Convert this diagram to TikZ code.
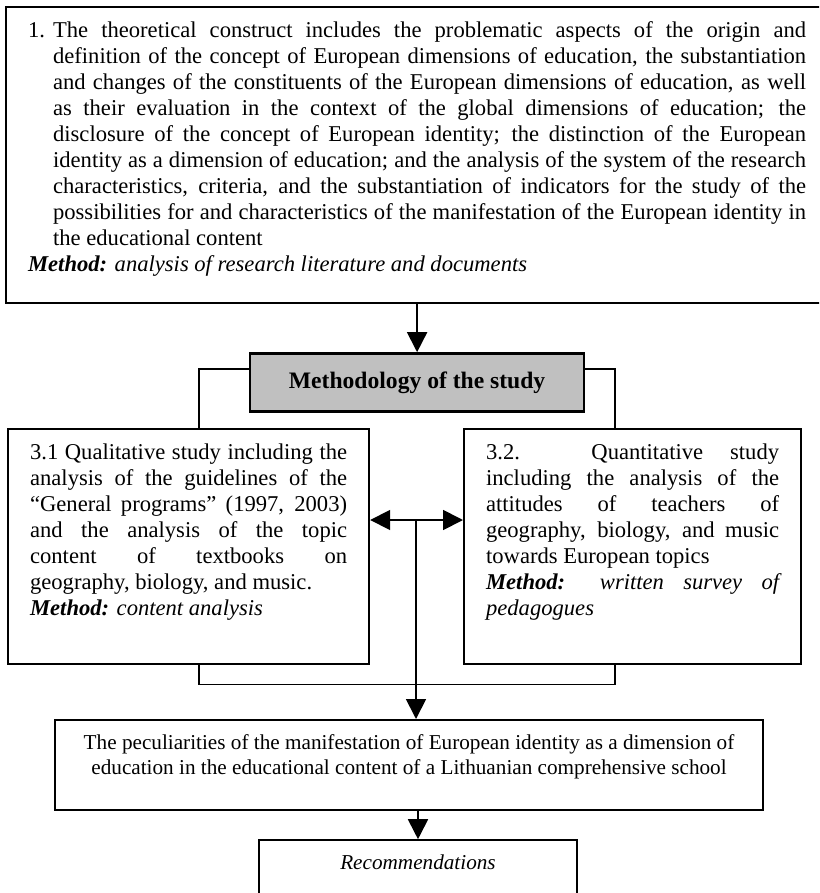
\documentclass[tikz,border=0pt]{standalone}
\usepackage{fontspec}
\setmainfont{Liberation Serif}
\usetikzlibrary{arrows.meta,positioning}
\definecolor{headgray}{RGB}{192,192,192}
\newcommand{\boxtext}[3]{\parbox[t][#2][t]{#1}{\tolerance=10000\hbadness=10000\strut#3}}
\tikzset{
 stage/.style={rectangle,draw=black,line width=1.1pt,inner xsep=11pt,inner ysep=6pt,font=\fontsize{11.3pt}{13pt}\selectfont},
 headbox/.style={rectangle,draw=black,line width=1.2pt,fill=headgray,minimum width=167pt,minimum height=29pt,font=\fontsize{11.8pt}{14pt}\selectfont\bfseries},
 outcome/.style={stage,font=\fontsize{10.6pt}{12.5pt}\selectfont},
 arrow/.style={-{Triangle[length=10pt,width=10pt]},line width=0.9pt,draw=black},
 twoway/.style={{Triangle[length=10pt,width=10pt]}-{Triangle[length=10pt,width=10pt]},line width=0.9pt,draw=black},
 link/.style={line width=0.6pt,draw=black}}
\begin{document}
\begin{tikzpicture}[x=0.5pt,y=-0.5pt,node distance=24pt]
\useasboundingbox (0,0) rectangle (819,893);
\clip (0,0) rectangle (819,893);
\node[stage,anchor=north west] (theory) at (5,6) {\boxtext{389pt}{136pt}{\hangindent=12.5pt\hangafter=1\makebox[12.5pt][l]{1.}The theoretical construct includes the problematic aspects of the origin and\linebreak
 definition of the concept of European dimensions of education, the substantiation\linebreak
 and changes of the constituents of the European dimensions of education, as well\linebreak
 as their evaluation in the context of the global dimensions of education; the\linebreak
 disclosure of the concept of European identity; the distinction of the European\linebreak
 identity as a dimension of education; and the analysis of the system of the research\linebreak
 characteristics, criteria, and the substantiation of indicators for the study of the\linebreak
 possibilities for and characteristics of the manifestation of the European identity in\linebreak
 the educational content\par
 \textbf{\textit{Method:}} \textit{analysis of research literature and documents}}};
\node[headbox,below=of theory] (method) {Methodology of the study};
\node[stage,anchor=north west] (qual) at (7,428) {\boxtext{158.5pt}{105.5pt}{3.1 Qualitative study including the\linebreak
 analysis of the guidelines of the\linebreak
 “General programs” (1997, 2003)\linebreak
 and the analysis of the topic\linebreak
 content of textbooks on\linebreak
 geography, biology, and music.\par
 \textbf{\textit{Method:}} \textit{content analysis}}};
\node[stage,anchor=north west] (quant) at (463,428) {\boxtext{146.5pt}{105.5pt}{3.2. Quantitative study\linebreak
 including the analysis of the\linebreak
 attitudes of teachers of\linebreak
 geography, biology, and music\linebreak
 towards European topics\par
 \textbf{\textit{Method:}} \textit{written survey of\linebreak pedagogues}}};
\node[outcome,anchor=north] (result) at (409,719) {\boxtext{332pt}{33pt}{\centering The peculiarities of the manifestation of European identity as a dimension of\\
 education in the educational content of a Lithuanian comprehensive school}};
\node[outcome,line width=0.8pt,below=14pt of result,xshift=4.5pt] (recs) {\boxtext{137pt}{28pt}{\centering\itshape Recommendations}};
\coordinate (hub) at (416,520);
\coordinate (qualtap) at (199,369);
\coordinate (quanttap) at (615,369);
\draw[arrow] (theory.south) -- (method.north);
\draw[link] (method.west |- qualtap) -| (qual.north -| qualtap); \draw[link] (method.east |- quanttap) -| (quant.north -| quanttap);
\draw[twoway] (qual.east |- hub) -- (quant.west |- hub); \draw[arrow] (hub) -- (hub |- result.north);
\draw[link] (qual.south -| qualtap) -- ++(0,19) -| (quant.south -| quanttap);
\draw[arrow] (result.south -| recs.north) -- (recs.north);
\end{tikzpicture}
\end{document}
